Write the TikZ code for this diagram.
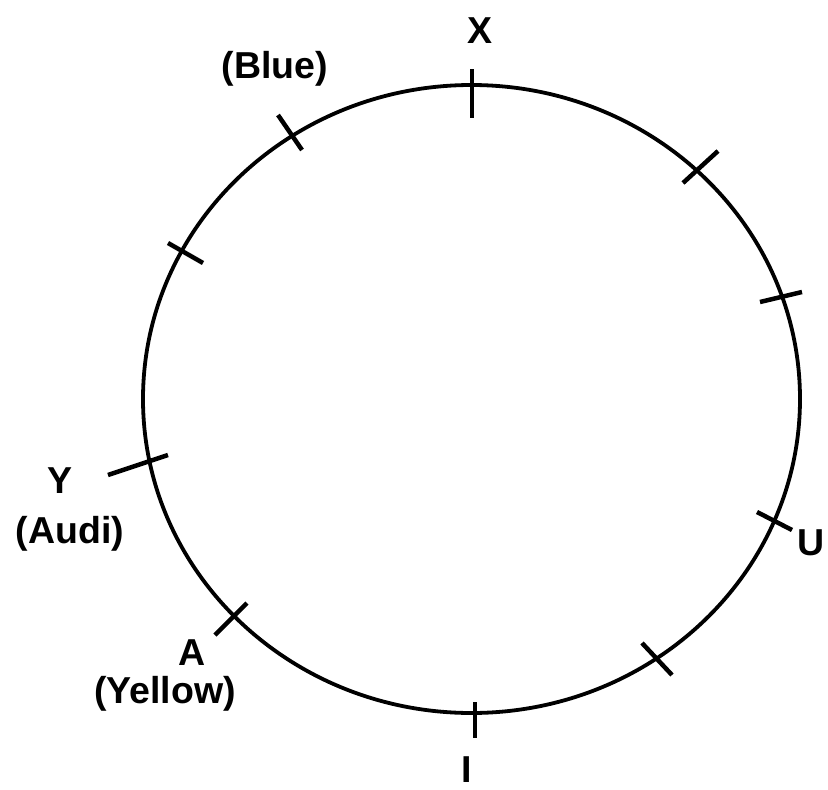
\documentclass[tikz,border=0pt]{standalone}
\usepackage{fontspec}
\setmainfont{Liberation Sans}
\begin{document}
\begin{tikzpicture}[x=1pt,y=-1pt,
  lbl/.style={font=\bfseries\fontsize{37.5}{45}\selectfont, inner sep=0pt, anchor=base},
  tick/.style={line width=4.5pt},
  rim/.style={line width=3.8pt}]
\useasboundingbox (0,0) rectangle (828,790);
\draw[rim] (471.5,399) ellipse [x radius=328.5, y radius=314];
% ticks
\coordinate (t1a) at (472,69);  \coordinate (t1b) at (472,118);
\coordinate (t2a) at (718,151); \coordinate (t2b) at (683,183);
\coordinate (t3a) at (760,302); \coordinate (t3b) at (802,292);
\coordinate (t4a) at (757,512); \coordinate (t4b) at (792,530);
\coordinate (t5a) at (642,643); \coordinate (t5b) at (672,675);
\coordinate (t6a) at (475,702); \coordinate (t6b) at (475,738);
\coordinate (t7a) at (215,635); \coordinate (t7b) at (247,603);
\coordinate (t8a) at (108,475); \coordinate (t8b) at (168,455);
\coordinate (t9a) at (168,243); \coordinate (t9b) at (203,263);
\coordinate (t10a) at (278,115); \coordinate (t10b) at (302,150);
\foreach \i in {1,...,10} \draw[tick] (t\i a) -- (t\i b);
% labels
\node[lbl] (lx) at (480,43) {X};
\node[lbl] (lblue) at (275,78) {(Blue)};
\node[lbl] (ly) at (60,493) {Y};
\node[lbl] (laudi) at (70,543) {(Audi)};
\node[lbl] (la) at (192,665) {A};
\node[lbl] (lyellow) at (165,703) {(Yellow)};
\node[lbl, text depth=0pt] (li) at (467,782) {I};
\node[lbl] (lu) at (811,555) {U};
\end{tikzpicture}
\end{document}
